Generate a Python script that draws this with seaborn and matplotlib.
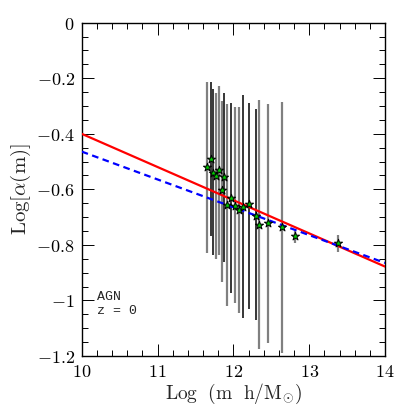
import numpy as np
import pandas as pd
import seaborn as sns
import matplotlib.pyplot as plt
from matplotlib.ticker import MultipleLocator, FixedLocator, FixedFormatter

# measured points (log mass, log alpha) with error bar ends
logm = [11.649, 11.702, 11.736, 11.772, 11.807, 11.877, 11.847, 11.974, 11.921, 12.026,
        12.071, 12.124, 12.203, 12.300, 12.335, 12.454, 12.642, 12.810, 13.385]
loga = [-0.518, -0.490, -0.542, -0.552, -0.530, -0.557, -0.602, -0.631, -0.657, -0.660,
        -0.674, -0.665, -0.653, -0.696, -0.727, -0.722, -0.737, -0.768, -0.794]
err_hi = [-0.212, -0.215, -0.240, -0.254, -0.228, -0.254, -0.281, -0.290, -0.293, -0.302,
          -0.302, -0.260, -0.288, -0.312, -0.278, -0.293, -0.284, -0.749, -0.764]
err_lo = [-0.828, -0.767, -0.836, -0.851, -0.836, -0.862, -0.932, -0.972, -1.020, -1.010,
          -1.046, -1.064, -1.032, -1.070, -1.176, -1.154, -1.189, -0.794, -0.824]
bar_col = ["gray", "black", "black", "gray", "gray", "black", "gray", "black", "gray", "gray",
           "gray", "black", "black", "black", "gray", "gray", "gray", "gray", "gray"]

# fits
fit_x = [10, 14]
fit_red = [-0.400, -0.878]
fit_blue = [-0.464, -0.865]

xticks = [10, 11, 12, 13, 14]
xlabels = ["$10$", "$11$", "$12$", "$13$", "$14$"]
yticks = [0, -0.2, -0.4, -0.6, -0.8, -1.0, -1.2]
ylabels = ["$0$", "$-0.2$", "$-0.4$", "$-0.6$", "$-0.8$", "$-1$", "$-1.2$"]

sns.set_style("ticks")
plt.rcParams["mathtext.fontset"] = "cm"
plt.rcParams["font.family"] = ["DejaVu Serif"]

df = pd.DataFrame({"logm": logm, "loga": loga, "hi": err_hi, "lo": err_lo, "c": bar_col})
lines = pd.DataFrame({"x": fit_x * 2, "y": fit_red + fit_blue,
                      "fit": ["red"] * 2 + ["blue"] * 2})

fig = plt.figure(figsize=(4.07, 4.07), dpi=100)
ax = fig.add_axes([0.2007, 0.1253, 0.7453, 0.8189])

for c, lw in [("gray", 1.6), ("black", 1.1)]:
    sub = df[df.c == c]
    ax.vlines(sub.logm, sub.lo, sub.hi, colors="#808080" if c == "gray" else "black",
              linewidth=lw, zorder=2)

sns.lineplot(data=lines, x="x", y="y", hue="fit", style="fit",
             palette={"red": "#ff0000", "blue": "#0000ff"},
             dashes={"red": "", "blue": (3, 2)}, linewidth=1.6,
             legend=False, ax=ax, zorder=3)

sns.scatterplot(data=df, x="logm", y="loga", marker="*", s=38, color="#00cc00",
                edgecolor="black", linewidth=0.7, legend=False, ax=ax, zorder=4)

ax.set_xlim(10, 14)
ax.set_ylim(-1.2, 0)
ax.xaxis.set_major_locator(FixedLocator(xticks))
ax.xaxis.set_major_formatter(FixedFormatter(xlabels))
ax.yaxis.set_major_locator(FixedLocator(yticks))
ax.yaxis.set_major_formatter(FixedFormatter(ylabels))
ax.xaxis.set_minor_locator(MultipleLocator(0.2))
ax.yaxis.set_minor_locator(MultipleLocator(0.05))
ax.tick_params(which="both", direction="in", top=True, right=True, width=0.7, colors="black")
ax.tick_params(which="major", length=8.5, labelsize=13, pad=5)
ax.tick_params(which="minor", length=4.3)
for s in ax.spines.values():
    s.set_linewidth(1.0)
    s.set_color("black")

ax.set_xlabel(r"$\rm Log\ \ (m\ \ h/M_{\odot})$", fontsize=14, labelpad=1)
ax.set_ylabel(r"$\rm Log[\alpha(m)]$", fontsize=15, labelpad=2)

ax.text(10.2, -0.988, "AGN", family=["Liberation Mono"], fontsize=9.5, va="center")
ax.text(10.2, -1.039, "z = 0", family=["Liberation Mono"], fontsize=9.5, va="center")

fig.savefig("out.png", dpi=100)
